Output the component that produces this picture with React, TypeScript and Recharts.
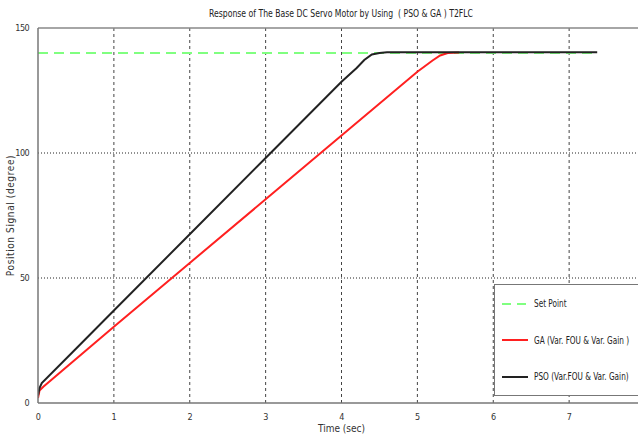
import { Line, LineChart, ReferenceLine, XAxis, YAxis } from "recharts"

const setPointTime = [0, 7.37]
const setPointValue = [140, 140]

const gaTime = [0, 0.02, 0.07, 1, 2, 3, 4, 5, 5.2, 5.3, 5.4, 5.55]
const gaValue = [2, 5, 6.5, 30.5, 56, 81.5, 107, 132.5, 137, 139, 140, 140.2]

const psoTime = [0, 0.02, 0.05, 0.5, 1, 2, 3, 4, 4.2, 4.3, 4.4, 4.5, 4.6, 7.37]
const psoValue = [3, 6, 8, 21.7, 37, 67.5, 98, 128.5, 134, 137.2, 139.4, 140, 140.3, 140.3]

const xTicks = [0, 1, 2, 3, 4, 5, 6, 7]
const xGrid = [1, 2, 3, 4, 5, 6, 7, 8]
const yTicks = [0, 50, 100, 150]

const legendItems = [
    { name: "Set Point", color: "#80ff80", dash: true },
    { name: "GA (Var. FOU & Var. Gain )", color: "#ff2020", dash: false },
    { name: "PSO (Var.FOU & Var. Gain)", color: "#222", dash: false },
]

const zip = (t: number[], v: number[]) => t.map((x, i) => ({ t: x, v: v[i] }))

const setPointData = zip(setPointTime, setPointValue)
const gaData = zip(gaTime, gaValue)
const psoData = zip(psoTime, psoValue)

const font = "'DejaVu Sans Condensed', 'Liberation Sans Narrow', sans-serif"
const txt = { fontSize: 10, fill: "#333", fontFamily: font, fontStretch: "condensed" }
const tickTxt = { fontSize: 9, fill: "#333", fontFamily: font, letterSpacing: -0.6 }

export default function App() {
    return (
        <div style={{ position: "fixed", left: 0, top: 0, width: 638, height: 434, overflow: "hidden", background: "#fff", fontFamily: font }}>
            <div style={{ position: "absolute", left: 341, top: 7, whiteSpace: "nowrap", fontSize: 11, color: "#222", transform: "translateX(-50%) scaleX(0.78)" }}>
                Response of The Base DC Servo Motor by Using &nbsp;( PSO &amp; GA ) T2FLC
            </div>
            <LineChart width={660} height={450} margin={{ top: 28, right: 15, left: 0, bottom: 7 }}>
                {xGrid.map((x) => (
                    <ReferenceLine key={"gx" + x} x={x} stroke="#444" strokeDasharray="3 3" strokeWidth={1} />
                ))}
                {yTicks.slice(1, -1).map((y) => (
                    <ReferenceLine key={"gy" + y} y={y} stroke="#222" strokeDasharray="1 2" strokeWidth={1} />
                ))}
                <ReferenceLine y={150} stroke="#888" strokeWidth={1.5} />
                <XAxis
                    type="number"
                    dataKey="t"
                    domain={[0, 8]}
                    ticks={xTicks}
                    allowDataOverflow
                    height={40}
                    stroke="#777"
                    strokeWidth={1.5}
                    tickLine={false}
                    tickMargin={5}
                    tick={tickTxt}
                    label={{ value: "Time (sec)", position: "insideBottom", offset: 11, ...txt }}
                />
                <YAxis
                    type="number"
                    dataKey="v"
                    domain={[0, 150]}
                    ticks={yTicks}
                    width={38}
                    stroke="#777"
                    strokeWidth={1.5}
                    tickLine={false}
                    tickMargin={3}
                    tick={tickTxt}
                    label={{ value: "Position Signal (degree)", angle: -90, position: "insideLeft", offset: 10, ...txt, letterSpacing: 0.6, style: { textAnchor: "middle" } }}
                />
                <Line data={setPointData} dataKey="v" stroke="#80ff80" strokeWidth={2} strokeDasharray="10 6" dot={false} isAnimationActive={false} />
                <Line data={gaData} dataKey="v" stroke="#ff2020" strokeWidth={2} dot={false} isAnimationActive={false} />
                <Line data={psoData} dataKey="v" stroke="#222" strokeWidth={2} dot={false} isAnimationActive={false} />
            </LineChart>
            <div style={{ position: "absolute", left: 494, top: 284, width: 160, height: 110, border: "1.5px solid #777", background: "#fff", fontSize: 11, color: "#222" }}>
                {legendItems.map((e, i) => (
                    <div key={e.name} style={{ position: "absolute", left: 7, top: 12 + i * 36.5, display: "flex", alignItems: "center", whiteSpace: "nowrap" }}>
                        <svg width={28} height={4} style={{ marginRight: 4 }}>
                            <line x1={0} y1={2} x2={26} y2={2} stroke={e.color} strokeWidth={2} strokeDasharray={e.dash ? "9 6" : undefined} />
                        </svg>
                        <span style={{ display: "inline-block", transform: "scaleX(0.74)", transformOrigin: "left center" }}>{e.name}</span>
                    </div>
                ))}
            </div>
        </div>
    )
}
